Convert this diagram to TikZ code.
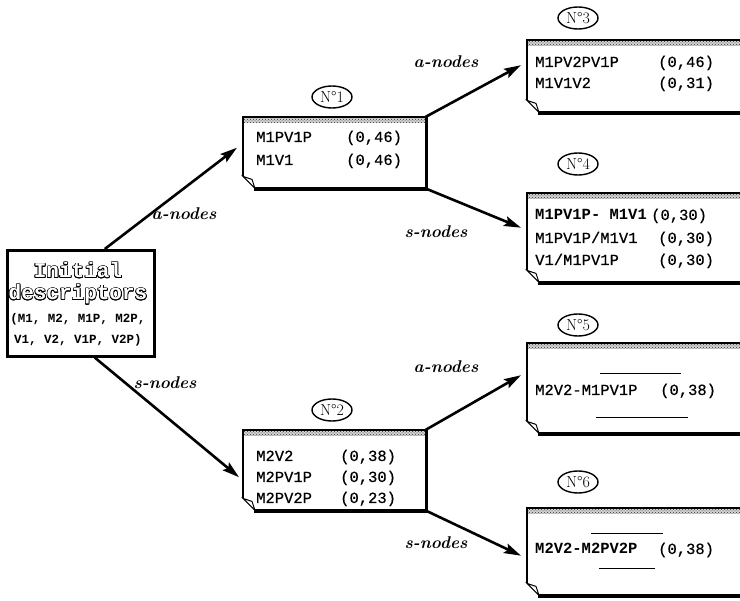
\documentclass[tikz,border=0pt]{standalone}
\usepackage{fontspec}
\newfontfamily\mono[FakeBold=0.5]{Liberation Mono}
\newfontfamily\monob{Liberation Mono}
\usepackage{contour}
\contourlength{0.7pt}
\usetikzlibrary{patterns,shapes.geometric,arrows.meta,calc}
\tikzset{
  txt/.style={anchor=base west, inner sep=0pt, font=\mono\fontsize{15.5}{17}\selectfont},
  btxt/.style={txt, font=\monob\bfseries\fontsize{15.5}{17}\selectfont},
  numlabel/.style={draw, ellipse, line width=1.4pt, inner sep=0pt, minimum width=40pt, minimum height=22pt, font=\fontsize{16}{18}\selectfont},
  edgelabel/.style={inner sep=0pt, font=\bfseries\itshape\fontsize{17}{19}\selectfont},
  arr/.style={line width=2.6pt, -{Stealth[length=17pt, width=10pt, inset=3pt]}},
  dashln/.style={line width=0.9pt},
}
\newcommand\docbox[5]{%
  \node[inner sep=0pt, minimum width=#4pt, minimum height=#5pt, anchor=north west] (#1) at (#2,#3) {};
  \fill[gray!35] (#1.north west) rectangle ([yshift=-6pt]#1.north east);
  \fill[pattern=crosshatch dots, pattern color=black!80] (#1.north west) rectangle ([yshift=-6pt]#1.north east);
  \draw[line width=1.4pt] ([yshift=12pt]#1.south west) -- (#1.north west) -- (#1.north east);
  \draw[line width=1pt, fill=white] ([yshift=12pt]#1.south west) -- ([xshift=9pt,yshift=9pt]#1.south west) -- ([xshift=12pt]#1.south west) -- cycle;
  \draw[line width=3.5pt] ([xshift=11pt,yshift=-0.8pt]#1.south west) -- ([xshift=1pt,yshift=-0.8pt]#1.south east) -- ([xshift=1pt]#1.north east);
}
\begin{document}
\begin{tikzpicture}[x=1pt,y=-1pt]
\clip (0,0) rectangle (740,601);
\fill[white] (0,0) rectangle (740,601);

% initial box
\node[draw, line width=2.6pt, minimum width=147pt, minimum height=106pt, anchor=north west, inner sep=0pt] (init) at (6,249) {};
\node[anchor=base, inner sep=0pt] (i1) at (78,278) {\contour{black}{\textcolor{white}{\monob\bfseries\fontsize{21}{22}\selectfont Initial}}};
\node[anchor=base, inner sep=0pt] (i2) at (78,300) {\contour{black}{\textcolor{white}{\monob\bfseries\fontsize{21}{22}\selectfont descriptors}}};
\node[anchor=base, inner sep=0pt, font=\monob\bfseries\fontsize{12.5}{14}\selectfont] (i3) at (78,323) {(M1, M2, M1P, M2P,};
\node[anchor=base, inner sep=0pt, font=\monob\bfseries\fontsize{12.5}{14}\selectfont] (i4) at (78,344) {V1, V2, V1P, V2P)};

% boxes
\docbox{n1}{243}{117}{182}{71}
\docbox{n2}{243}{430}{182}{80}
\docbox{n3}{527}{40}{260}{72}
\docbox{n4}{527}{193}{260}{89}
\docbox{n5}{527}{343}{260}{90}
\docbox{n6}{527}{508}{260}{87}

% number labels
\node[numlabel] (l1) at (332,97) {N°1};
\node[numlabel] (l2) at (332,410) {N°2};
\node[numlabel] (l3) at (578,18) {N°3};
\node[numlabel] (l4) at (578,164) {N°4};
\node[numlabel] (l5) at (578,325) {N°5};
\node[numlabel] (l6) at (578,482) {N°6};

% box texts
\node[txt] (n1a) at (256,142) {M1PV1P};
\node[txt] (n1b) at (346,142) {(0,46)};
\node[txt] (n1c) at (256,165) {M1V1};
\node[txt] (n1d) at (346,165) {(0,46)};

\node[txt] (n2a) at (256,461) {M2V2};
\node[txt] (n2b) at (340,461) {(0,38)};
\node[txt] (n2c) at (256,482) {M2PV1P};
\node[txt] (n2d) at (340,482) {(0,30)};
\node[txt] (n2e) at (256,503) {M2PV2P};
\node[txt] (n2f) at (340,503) {(0,23)};

\node[txt] (n3a) at (535,67) {M1PV2PV1P};
\node[txt] (n3b) at (658,67) {(0,46)};
\node[txt] (n3c) at (535,88) {M1V1V2};
\node[txt] (n3d) at (658,88) {(0,31)};

\node[btxt] (n4a) at (535,220) {M1PV1P- M1V1};
\node[txt] (n4b) at (651,220) {(0,30)};
\node[txt] (n4c) at (535,243) {M1PV1P/M1V1};
\node[txt] (n4d) at (658,243) {(0,30)};
\node[txt] (n4e) at (535,265) {V1/M1PV1P};
\node[txt] (n4f) at (658,265) {(0,30)};

\node[txt] (n5a) at (535,395) {M2V2-M1PV1P};
\node[txt] (n5b) at (660,395) {(0,38)};
\draw[dashln] (600,373) -- (681,373);
\draw[dashln] (596,417) -- (688,417);

\node[btxt] (n6a) at (535,554) {M2V2-M2PV2P};
\node[txt] (n6b) at (658,554) {(0,38)};
\draw[dashln] (591,533) -- (663,533);
\draw[dashln] (599,568) -- (655,568);

% arrows
\draw[arr] ([xshift=24pt]init.north) -- ([xshift=-6pt,yshift=5pt]n1.west);
\draw[arr] ([xshift=14pt]init.south) -- ([xshift=-4pt,yshift=-7pt]n2.west);
\draw[arr] (n1.north east) -- ([xshift=-6pt,yshift=11pt]n3.west);
\draw[arr] (n1.south east) -- ([xshift=-6pt,yshift=10pt]n4.west);
\draw[arr] (n2.north east) -- ([xshift=-6pt,yshift=13pt]n5.west);
\draw[arr] (n2.south east) -- ([xshift=-6pt,yshift=-4pt]n6.west);

% arrow labels
\node[edgelabel] (e1) at (184,214) {a-nodes};
\node[edgelabel] (e2) at (165,383) {s-nodes};
\node[edgelabel] (e3) at (446,62) {a-nodes};
\node[edgelabel] (e4) at (436,232) {s-nodes};
\node[edgelabel] (e5) at (446,367) {a-nodes};
\node[edgelabel] (e6) at (436,543) {s-nodes};
\end{tikzpicture}
\end{document}
